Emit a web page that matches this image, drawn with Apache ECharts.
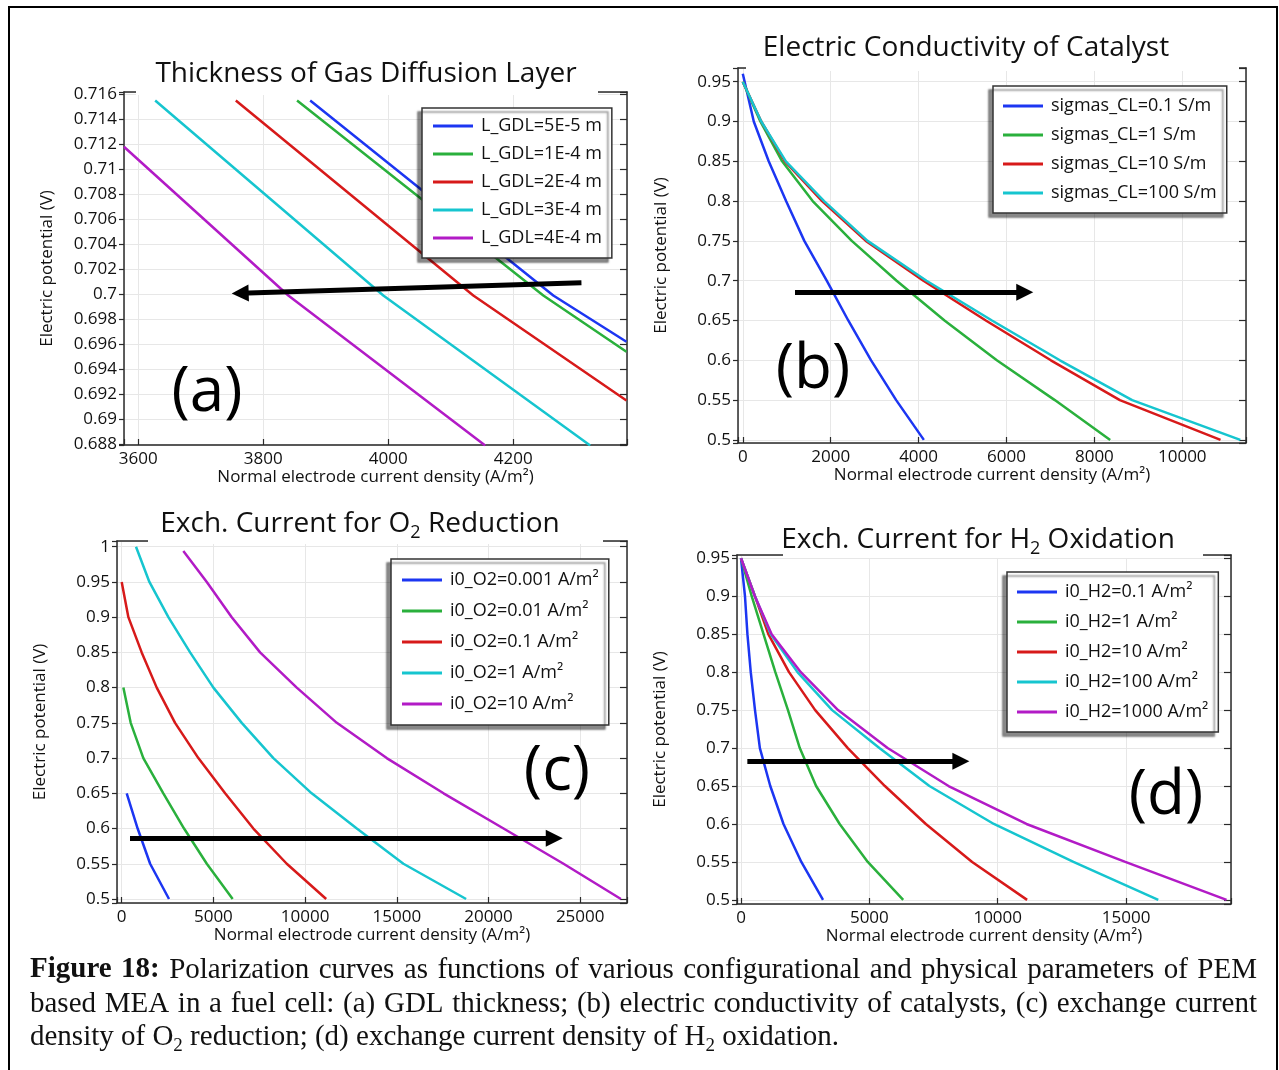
<!DOCTYPE html>
<html>
<head>
<meta charset="utf-8">
<title>Polarization curves – PEM fuel cell MEA</title>
<script src="https://cdn.jsdelivr.net/npm/echarts@6/dist/echarts.min.js"></script>
<style>
  html, body { margin: 0; padding: 0; background: #fff; }
  #chart { width: 1279px; height: 1070px; }
</style>
</head>
<body>
<div id="chart"></div>
<script>
// ---------- data: [current density (A/m^2), cell potential (V)] ----------

// (a) GDL thickness sweep
const gdlNames = ['L_GDL=5E-5 m', 'L_GDL=1E-4 m', 'L_GDL=2E-4 m', 'L_GDL=3E-4 m', 'L_GDL=4E-4 m'];
const gdl_5e5 = [[3875, 0.7155], [4264, 0.6999], [4381, 0.6962]];
const gdl_1e4 = [[3854, 0.7155], [4248, 0.6999], [4381, 0.6954]];
const gdl_2e4 = [[3756, 0.7155], [4136, 0.6999], [4381, 0.6915]];
const gdl_3e4 = [[3627, 0.7155], [3992, 0.6999], [4323, 0.6879]];
const gdl_4e4 = [[3577, 0.7118], [3840, 0.6999], [4155, 0.6879]];
const gdlArrow = [[4309, 0.70093], [3763, 0.70008]];

// (b) catalyst electric conductivity sweep
const condNames = ['sigmas_CL=0.1 S/m', 'sigmas_CL=1 S/m', 'sigmas_CL=10 S/m', 'sigmas_CL=100 S/m'];
const cond_01  = [[0, 0.96], [250, 0.9], [590, 0.85], [985, 0.8], [1400, 0.75], [1910, 0.7], [2400, 0.65], [2920, 0.6], [3490, 0.55], [4120, 0.5]];
const cond_1   = [[0, 0.95], [400, 0.9], [895, 0.85], [1590, 0.8], [2480, 0.75], [3500, 0.7], [4590, 0.65], [5780, 0.6], [7100, 0.55], [8360, 0.5]];
const cond_10  = [[0, 0.95], [420, 0.9], [960, 0.85], [1805, 0.8], [2800, 0.75], [4110, 0.7], [5530, 0.65], [7010, 0.6], [8580, 0.55], [10870, 0.5]];
const cond_100 = [[0, 0.95], [420, 0.9], [980, 0.85], [1850, 0.8], [2840, 0.75], [4180, 0.7], [5670, 0.65], [7215, 0.6], [8860, 0.55], [11320, 0.5]];
const condArrow = [[1188, 0.6854], [6416, 0.6854]];

// (c) O2 reduction exchange current density sweep
const o2Names = ['i0_O2=0.001 A/m²', 'i0_O2=0.01 A/m²', 'i0_O2=0.1 A/m²', 'i0_O2=1 A/m²', 'i0_O2=10 A/m²'];
const o2_0001 = [[273, 0.65], [870, 0.6], [1550, 0.55], [2580, 0.5]];
const o2_001  = [[91, 0.8], [491, 0.75], [1180, 0.7], [2270, 0.65], [3400, 0.6], [4640, 0.55], [6050, 0.5]];
const o2_01   = [[0, 0.95], [364, 0.9], [1090, 0.85], [1910, 0.8], [2910, 0.75], [4180, 0.7], [5640, 0.65], [7180, 0.6], [9000, 0.55], [11150, 0.5]];
const o2_1    = [[780, 1.0], [1510, 0.95], [2545, 0.9], [3730, 0.85], [5000, 0.8], [6545, 0.75], [8270, 0.7], [10360, 0.65], [12820, 0.6], [15360, 0.55], [18780, 0.5]];
const o2_10   = [[3360, 0.994], [4640, 0.95], [6000, 0.9], [7545, 0.85], [9545, 0.8], [11730, 0.75], [14450, 0.7], [17550, 0.65], [20820, 0.6], [24090, 0.55], [27220, 0.5]];
const o2Arrow = [[453, 0.5861], [23585, 0.5861]];

// (d) H2 oxidation exchange current density sweep
const h2Names = ['i0_H2=0.1 A/m²', 'i0_H2=1 A/m²', 'i0_H2=10 A/m²', 'i0_H2=100 A/m²', 'i0_H2=1000 A/m²'];
const h2_01   = [[0, 0.95], [155, 0.9], [250, 0.85], [380, 0.8], [545, 0.75], [735, 0.7], [1140, 0.65], [1655, 0.6], [2350, 0.55], [3195, 0.5]];
const h2_1    = [[0, 0.95], [416, 0.9], [877, 0.85], [1337, 0.8], [1830, 0.75], [2290, 0.7], [2925, 0.65], [3843, 0.6], [4938, 0.55], [6318, 0.5]];
const h2_10   = [[0, 0.95], [545, 0.9], [1065, 0.85], [1870, 0.8], [2890, 0.75], [4160, 0.7], [5605, 0.65], [7200, 0.6], [9005, 0.55], [11145, 0.5]];
const h2_100  = [[0, 0.95], [545, 0.9], [1160, 0.85], [2200, 0.8], [3550, 0.75], [5390, 0.7], [7340, 0.65], [9850, 0.6], [12950, 0.55], [16255, 0.5]];
const h2_1000 = [[0, 0.95], [540, 0.9], [1194, 0.85], [2330, 0.8], [3780, 0.75], [5710, 0.7], [8085, 0.65], [11120, 0.6], [14970, 0.55], [18915, 0.5]];
const h2Arrow = [[247, 0.6825], [8565, 0.6825]];

// ---------- text ----------
const panelTitles = ['Thickness of Gas Diffusion Layer', 'Electric Conductivity of Catalyst',
                     'Exch. Current for O_2 Reduction', 'Exch. Current for H_2 Oxidation'];
const panelTags = ['(a)', '(b)', '(c)', '(d)'];
const xAxisName = 'Normal electrode current density (A/m²)';
const yAxisName = 'Electric potential (V)';
const captionLines = [
  'Figure 18: Polarization curves as functions of various configurational and physical parameters of PEM',
  'based MEA in a fuel cell: (a) GDL thickness; (b) electric conductivity of catalysts, (c) exchange current',
  'density of O_2 reduction; (d) exchange current density of H_2 oxidation.'
];

// ---------- styling ----------
const lineColors = ['#1c36f2', '#2ab03c', '#d71a1a', '#16c5cf', '#b21bc6'];
const UI_FONT = '"Open Sans", "Noto Sans", sans-serif';
const SERIF_FONT = '"Liberation Serif", "Times New Roman", serif';
const INK = '#111';
const FRAME = '#2a2a2a';

const panels = [
  { grid: { left: 124, top: 92, width: 503, height: 353 },
    x: [3577.1, 4381.9], xStep: 200, xSplit: 4,
    y: [0.687944, 0.716184], yStep: 0.002, ySplit: 14,
    names: gdlNames, curves: [gdl_5e5, gdl_1e4, gdl_2e4, gdl_3e4, gdl_4e4], arrow: gdlArrow,
    titlePos: [366, 74], cover: [12, 29],
    legend: { left: 422, top: 108, gap: 8, pad: [8, 10, 10, 11] },
    tagPos: [207, 393] },
  { grid: { left: 738, top: 68, width: 508, height: 375 },
    x: [-109, 11450], xStep: 2000, xSplit: 6,
    y: [0.4961, 0.9672], yStep: 0.05, ySplit: 9,
    names: condNames, curves: [cond_01, cond_1, cond_10, cond_100], arrow: condArrow,
    titlePos: [966, 48], cover: [8, 7],
    legend: { left: 993, top: 86, gap: 9, pad: [10, 10, 10, 10] },
    tagPos: [813, 370] },
  { grid: { left: 117, top: 541, width: 510, height: 362 },
    x: [-256, 27552], xStep: 5000, xSplit: 6,
    y: [0.4943, 1.0081], yStep: 0.05, ySplit: 10,
    names: o2Names, curves: [o2_0001, o2_001, o2_01, o2_1, o2_10], arrow: o2Arrow,
    titlePos: [360, 524], cover: [31, 24],
    legend: { left: 391, top: 559, gap: 11, pad: [11, 10, 11, 11] },
    tagPos: [557, 772] },
  { grid: { left: 737, top: 555, width: 494, height: 349 },
    x: [-156, 19088], xStep: 5000, xSplit: 4,
    y: [0.4946, 0.9543], yStep: 0.05, ySplit: 9,
    names: h2Names, curves: [h2_01, h2_1, h2_10, h2_100, h2_1000], arrow: h2Arrow,
    titlePos: [978, 540], cover: [46, 28],
    legend: { left: 1007, top: 572, gap: 10, pad: [10, 10, 10, 10] },
    tagPos: [1166, 796] }
];

// label only the multiples of the tick step; the axis ends are left blank
function stepLabel(step) {
  return function (v) {
    const k = v / step;
    if (Math.abs(k - Math.round(k)) > 1e-6) return '';
    return String(+v.toFixed(6));
  };
}

const tickText = { fontSize: 17, fontFamily: UI_FONT, color: INK };
const nameText = { fontSize: 17, fontFamily: UI_FONT, color: INK };
const frameLine = { show: true, onZero: false, lineStyle: { color: FRAME, width: 1.5 } };

const grids = [], xAxes = [], yAxes = [], series = [], legends = [];

panels.forEach(function (p, i) {
  grids.push(p.grid);
  // bottom axis with labels, top axis as plain frame edge
  xAxes.push({
    type: 'value', gridIndex: i, position: 'bottom',
    min: p.x[0], max: p.x[1], splitNumber: p.xSplit, minInterval: p.xStep, maxInterval: p.xStep,
    axisLine: frameLine,
    axisTick: { show: true, inside: true, length: 6, lineStyle: { color: FRAME, width: 1.2 } },
    axisLabel: Object.assign({ margin: 6, formatter: stepLabel(p.xStep) }, tickText),
    splitLine: { show: true, lineStyle: { color: '#e7e7e7', width: 1 } },
    name: xAxisName, nameLocation: 'middle', nameGap: 24, nameTextStyle: nameText
  });
  xAxes.push({
    type: 'value', gridIndex: i, position: 'top',
    min: p.x[0], max: p.x[1], splitNumber: p.xSplit, minInterval: p.xStep, maxInterval: p.xStep,
    axisLine: frameLine, axisTick: { show: false }, axisLabel: { show: false }, splitLine: { show: false }
  });
  // left axis with labels, right axis carries inward ticks only
  yAxes.push({
    type: 'value', gridIndex: i, position: 'left',
    min: p.y[0], max: p.y[1], splitNumber: p.ySplit, minInterval: p.yStep, maxInterval: p.yStep,
    axisLine: frameLine,
    axisTick: { show: true, inside: false, length: 5, lineStyle: { color: FRAME, width: 1.2 } },
    axisLabel: Object.assign({ margin: 7, formatter: stepLabel(p.yStep) }, tickText),
    splitLine: { show: true, lineStyle: { color: '#e7e7e7', width: 1 } },
    name: yAxisName, nameLocation: 'middle', nameRotate: 90, nameGap: 68, nameTextStyle: nameText
  });
  yAxes.push({
    type: 'value', gridIndex: i, position: 'right',
    min: p.y[0], max: p.y[1], splitNumber: p.ySplit, minInterval: p.yStep, maxInterval: p.yStep,
    axisLine: frameLine,
    axisTick: { show: true, inside: true, length: 7, lineStyle: { color: FRAME, width: 1.2 } },
    axisLabel: { show: false }, splitLine: { show: false }
  });

  p.curves.forEach(function (curve, j) {
    series.push({
      type: 'line', name: p.names[j], data: curve,
      xAxisIndex: 2 * i, yAxisIndex: 2 * i,
      symbol: 'none', showSymbol: false, silent: true, z: 3,
      lineStyle: { width: 2.5, color: lineColors[j] },
      itemStyle: { color: lineColors[j] }
    });
  });

  // trend arrow
  series.push({
    type: 'line', name: 'trend ' + panelTags[i], data: [],
    xAxisIndex: 2 * i, yAxisIndex: 2 * i, silent: true,
    markLine: {
      silent: true, animation: false,
      symbol: ['none', 'triangle'], symbolSize: [17, 17],
      label: { show: false },
      emphasis: { disabled: true },
      lineStyle: { color: '#000', width: 5, type: 'solid' },
      itemStyle: { color: '#000' },
      data: [[{ coord: p.arrow[0] }, { coord: p.arrow[1] }]]
    }
  });

  legends.push({
    data: p.names, orient: 'vertical', left: p.legend.left, top: p.legend.top,
    icon: 'rect', itemWidth: 40, itemHeight: 3, itemGap: p.legend.gap,
    padding: p.legend.pad, selectedMode: false,
    backgroundColor: '#fff', borderColor: '#333', borderWidth: 1.5,
    shadowBlur: 2, shadowColor: 'rgba(0,0,0,0.45)', shadowOffsetX: -4, shadowOffsetY: 4,
    textStyle: { fontSize: 18, fontFamily: UI_FONT, color: INK, lineHeight: 20, padding: [0, 0, 0, 3] }
  });
});

// ---------- free text: titles with subscripts, panel tags, caption ----------
const measureCtx = document.createElement('canvas').getContext('2d');
function textWidth(str, weight, size, family) {
  measureCtx.font = weight + ' ' + size + 'px ' + family;
  return measureCtx.measureText(str).width;
}
// "O_2" -> [{t:'O'}, {t:'2', sub:true}]
function toRuns(str) {
  const out = [];
  let buf = '';
  for (let i = 0; i < str.length; i++) {
    if (str[i] === '_' && i + 1 < str.length) {
      if (buf) out.push({ t: buf });
      buf = '';
      out.push({ t: str[i + 1], sub: true });
      i++;
    } else buf += str[i];
  }
  if (buf) out.push({ t: buf });
  return out;
}
function runFont(run, size) { return run.sub ? Math.round(size * 0.64) : size; }
function runsWidth(runs, weight, size, family) {
  return runs.reduce(function (w, r) { return w + textWidth(r.t, weight, runFont(r, size), family); }, 0);
}
function placeRuns(runs, x, cy, weight, size, family, out) {
  runs.forEach(function (r) {
    const fs = runFont(r, size);
    out.push({
      type: 'text', x: x, y: r.sub ? cy + size * 0.3 : cy, z: 100, silent: true,
      style: { text: r.t, fontSize: fs, fontFamily: family, fontWeight: weight,
               fill: INK, align: 'left', verticalAlign: 'middle' }
    });
    x += textWidth(r.t, weight, fs, family);
  });
  return x;
}

const graphics = [];

// outer figure border
graphics.push({ type: 'rect', z: 100, silent: true,
  shape: { x: 9, y: 7, width: 1268, height: 1080 },
  style: { fill: null, stroke: '#000', lineWidth: 2 } });

panels.forEach(function (p, i) {
  // white band behind the title interrupts the top frame edge
  const g = p.grid;
  graphics.push({ type: 'rect', z: 99, silent: true,
    shape: { x: g.left + p.cover[0], y: g.top - 3, width: g.width - p.cover[0] - p.cover[1], height: 6 },
    style: { fill: '#fff' } });
  const runs = toRuns(panelTitles[i]);
  const w = runsWidth(runs, 'normal', 28, UI_FONT);
  placeRuns(runs, p.titlePos[0] - w / 2, p.titlePos[1], 'normal', 28, UI_FONT, graphics);
  graphics.push({ type: 'text', x: p.tagPos[0], y: p.tagPos[1], z: 100, silent: true,
    style: { text: panelTags[i], fontSize: 62, fontFamily: UI_FONT, fill: '#000',
             align: 'center', verticalAlign: 'middle' } });
});

// caption: justified lines, bold figure number
const capLeft = 30, capWidth = 1227, capSize = 29;
const capCenters = [970, 1004, 1037];
captionLines.forEach(function (line, li) {
  const words = line.split(' ').map(function (wd, wi) {
    const weight = (li === 0 && wi < 2) ? 'bold' : 'normal';
    const runs = toRuns(wd);
    return { runs: runs, weight: weight, w: runsWidth(runs, weight, capSize, SERIF_FONT) };
  });
  const total = words.reduce(function (s, w) { return s + w.w; }, 0);
  const justify = li < captionLines.length - 1;
  const gap = justify ? (capWidth - total) / (words.length - 1) : textWidth(' ', 'normal', capSize, SERIF_FONT);
  let x = capLeft;
  words.forEach(function (w) {
    placeRuns(w.runs, x, capCenters[li], w.weight, capSize, SERIF_FONT, graphics);
    x += w.w + gap;
  });
});

const chart = echarts.init(document.getElementById('chart'), null, { renderer: 'canvas' });
chart.setOption({
  animation: false,
  backgroundColor: '#fff',
  grid: grids,
  xAxis: xAxes,
  yAxis: yAxes,
  legend: legends,
  series: series,
  graphic: { elements: graphics }
});
</script>
</body>
</html>
